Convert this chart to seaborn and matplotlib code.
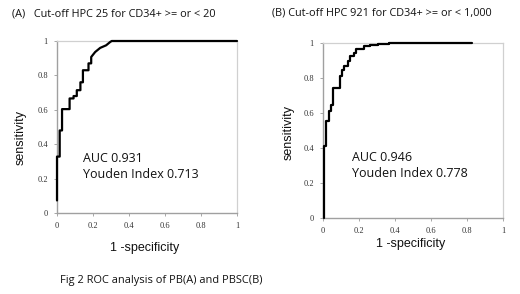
import matplotlib
matplotlib.use("Agg")
import matplotlib.pyplot as plt
import seaborn as sns
import pandas as pd

# ---- data (ROC curve vertices) ----
fpr_a = [0, 0, 0.015, 0.015, 0.028, 0.028, 0.07, 0.07, 0.092, 0.092, 0.11, 0.11,
         0.13, 0.13, 0.144, 0.144, 0.175, 0.175, 0.19, 0.19, 0.212, 0.24, 0.273,
         0.295, 0.304, 1.0]
tpr_a = [0.073, 0.328, 0.328, 0.48, 0.48, 0.604, 0.604, 0.666, 0.666, 0.68, 0.68,
         0.714, 0.714, 0.76, 0.76, 0.83, 0.83, 0.87, 0.87, 0.907, 0.936, 0.96,
         0.975, 0.994, 1.0, 1.0]

fpr_b = [0.006, 0.006, 0.018, 0.018, 0.035, 0.035, 0.046, 0.046, 0.055, 0.055,
         0.096, 0.096, 0.105, 0.105, 0.118, 0.118, 0.137, 0.137, 0.148, 0.148,
         0.17, 0.17, 0.185, 0.185, 0.229, 0.229, 0.262, 0.262, 0.308, 0.308,
         0.369, 0.369, 0.826]
tpr_b = [0.0, 0.413, 0.413, 0.556, 0.556, 0.612, 0.612, 0.646, 0.646, 0.742,
         0.742, 0.809, 0.809, 0.847, 0.847, 0.87, 0.87, 0.895, 0.895, 0.924,
         0.924, 0.943, 0.943, 0.967, 0.967, 0.981, 0.981, 0.99, 0.99, 0.996,
         0.996, 1.0, 1.0]

titles = ["(A)   Cut-off HPC 25 for CD34+ >= or < 20",
          "(B) Cut-off HPC 921 for CD34+ >= or < 1,000"]
auc_texts = ["AUC 0.931\nYouden Index 0.713", "AUC 0.946\nYouden Index 0.778"]
ticks = [0, 0.2, 0.4, 0.6, 0.8, 1]
tick_labels = ["0", "0.2", "0.4", "0.6", "0.8", "1"]
caption = "Fig 2 ROC analysis of PB(A) and PBSC(B)"

sns.set_theme(style="white")
plt.rcParams["font.family"] = ["Liberation Sans", "DejaVu Sans"]

W, H = 520, 294
fig = plt.figure(figsize=(W / 100, H / 100), dpi=100)
fig.patch.set_facecolor("white")

def px_axes(x0, y0, x1, y1):
    return fig.add_axes([x0 / W, 1 - y1 / H, (x1 - x0) / W, (y1 - y0) / H])

axA = px_axes(57, 41, 237, 213)
axB = px_axes(323, 43, 503, 218)

data = [(fpr_a, tpr_a), (fpr_b, tpr_b)]
label_pos = [
    dict(ylab=(-0.167, 0.44), xlab=(0.489, -0.167), txt=(0.144, 0.27)),
    dict(ylab=(-0.156, 0.49), xlab=(0.487, -0.113), txt=(0.16, 0.30)),
]

for ax, (fx, ty), lp, t in zip([axA, axB], data, label_pos, auc_texts):
    df = pd.DataFrame({"fpr": fx, "tpr": ty})
    sns.lineplot(data=df, x="fpr", y="tpr", sort=False, estimator=None,
                 color="black", linewidth=1.6, ax=ax, zorder=5)
    for ln in ax.lines:
        ln.set_clip_on(False)
    ax.set_xlim(0, 1)
    ax.set_ylim(0, 1)
    ax.set_xticks(ticks)
    ax.set_yticks(ticks)
    ax.set_xticklabels(tick_labels, family="Liberation Serif", fontsize=6, color="#333333")
    ax.set_yticklabels(tick_labels, family="Liberation Serif", fontsize=6, color="#333333")
    ax.tick_params(axis="both", length=2.5, width=0.6, color="#999999", pad=4,
                   bottom=True, left=True)
    for side in ["left", "bottom"]:
        ax.spines[side].set_color("#a0a0a0")
        ax.spines[side].set_linewidth(1.0)
        ax.spines[side].set_zorder(1)
    for side in ["top", "right"]:
        ax.spines[side].set_color("#d0d0d0")
        ax.spines[side].set_linewidth(0.9)
        ax.spines[side].set_zorder(1)
    ax.set_xlabel("1 -specificity", fontsize=9, color="#111111")
    ax.set_ylabel("sensitivity", fontsize=9, color="#111111")
    ax.xaxis.set_label_coords(*lp["xlab"])
    ax.yaxis.set_label_coords(*lp["ylab"])
    ax.text(lp["txt"][0], lp["txt"][1], t, transform=ax.transAxes,
            fontsize=9, family=["Open Sans", "DejaVu Sans"], color="#111111",
            va="center", ha="left", linespacing=1.3)

fig.text(12 / W, 1 - 14 / H, titles[0], fontsize=7.8, family=["Open Sans", "DejaVu Sans"],
         va="center", ha="left", color="#111111")
fig.text(272 / W, 1 - 13 / H, titles[1], fontsize=7.8, family=["Open Sans", "DejaVu Sans"],
         va="center", ha="left", color="#111111")
fig.text(60 / W, 1 - 280 / H, caption, fontsize=7.9, family=["Open Sans", "DejaVu Sans"],
         va="center", ha="left", color="#111111")

fig.savefig("out.png", dpi=100)
